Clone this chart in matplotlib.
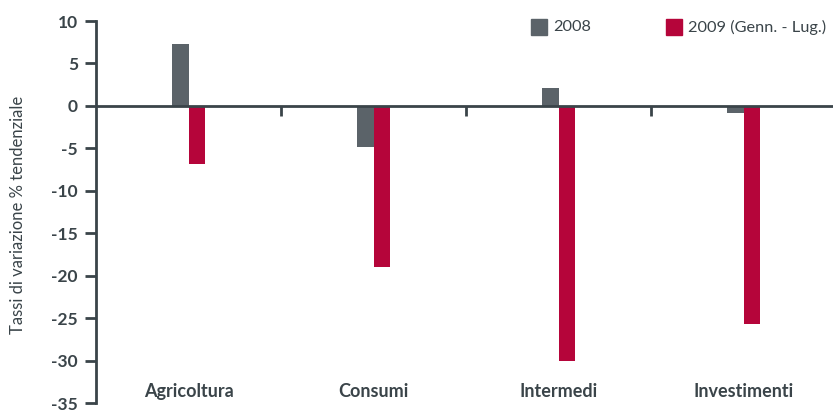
import matplotlib
matplotlib.use("Agg")
import matplotlib.pyplot as plt
from matplotlib.patches import Rectangle
import numpy as np

categories = ["Agricoltura", "Consumi", "Intermedi", "Investimenti"]
series_names = ["2008", "2009 (Genn. - Lug.)"]
values_2008 = [7.3, -4.8, 2.1, -0.8]
values_2009 = [-6.8, -19.0, -30.0, -25.7]
yticks = [10, 5, 0, -5, -10, -15, -20, -25, -30, -35]

GREY = "#5b6369"
RED = "#b5053a"
AXIS = "#3a4449"

plt.rcParams["font.family"] = ["Lato", "DejaVu Sans"]

W, H = 833, 411
fig = plt.figure(figsize=(W / 100, H / 100), dpi=100)
ax = fig.add_axes([96 / W, 1 - 403 / H, (836 - 96) / W, (403 - 21) / H])

x = np.arange(len(categories))
w = 0.087
ax.bar(x - w / 2, values_2008, width=w, color=GREY, zorder=2)
ax.bar(x + w / 2, values_2009, width=w, color=RED, zorder=2)

ax.set_xlim(-0.5, len(categories) - 0.5)
ax.set_ylim(-35, 10)

# zero baseline with separator ticks between categories
ax.axhline(0, color=AXIS, lw=2, zorder=3)
for sep in x[:-1] + 0.5:
    ax.plot([sep, sep], [0, -1.2], color=AXIS, lw=2, zorder=3, solid_capstyle="butt")

for s in ["top", "right", "bottom"]:
    ax.spines[s].set_visible(False)
ax.spines["left"].set_color(AXIS)
ax.spines["left"].set_linewidth(2)
ax.set_xticks([])
ax.set_yticks(yticks)
ax.set_yticklabels([str(t) for t in yticks], fontsize=12.5, fontweight="bold", color=AXIS)
ax.tick_params(axis="y", length=8, width=2, color=AXIS, pad=5)

for xi, name in zip(x, categories):
    ax.text(xi, -33.6, name, ha="center", va="center", fontsize=13,
            fontweight="bold", color=AXIS)

fig.text(0.022, 1 - 215 / H, "Tassi di variazione % tendenziale", rotation=90,
         ha="center", va="center", fontsize=12, color=AXIS)

# legend: square swatch followed by the series name
legend_x = [531, 666]
for px, name, col in zip(legend_x, series_names, [GREY, RED]):
    fig.patches.append(Rectangle((px / W, 1 - 35 / H), 16 / W, 16 / H,
                                 transform=fig.transFigure, color=col))
    fig.text((px + 22) / W, 1 - 27 / H, name, ha="left", va="center",
             fontsize=11.8, color=AXIS)

fig.savefig("out.png", dpi=100)
